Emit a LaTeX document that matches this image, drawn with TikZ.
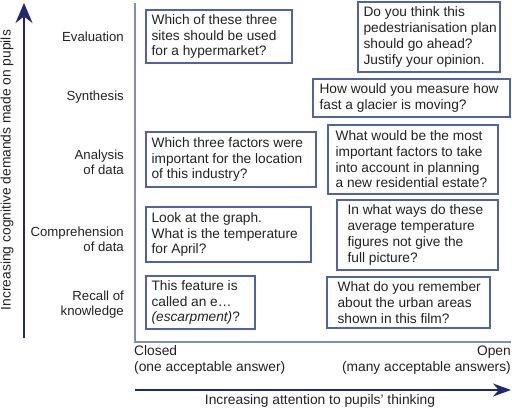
\documentclass[tikz,border=0pt]{standalone}
\usepackage{fontspec}
\setmainfont{Liberation Sans}
\usetikzlibrary{arrows.meta}
\definecolor{navy}{HTML}{1F2A6E}
\definecolor{framecol}{HTML}{7E8CC0}
\definecolor{boxcol}{HTML}{5262AA}
\definecolor{ink}{HTML}{222222}
\tikzset{
  txt/.style={font=\fontsize{13.2}{15.5}\selectfont, inner sep=0pt, text=ink},
  bigtxt/.style={font=\fontsize{13.8}{16}\selectfont, inner sep=0pt, text=ink},
  qbox/.style={draw=boxcol, line width=1.2pt, inner sep=0pt},
  qtext/.style={font=\fontsize{13.7}{15.7}\selectfont, inner sep=0pt, text=ink, align=left, anchor=west},
  lvl/.style={txt, align=right, anchor=east},
  axisline/.style={draw=navy, line width=2.4pt},
  framecolline/.style={draw=framecol, line width=1.5pt},
}
\newcommand{\qbx}[7]{%
  \node[qbox, minimum width={#4-#2}, minimum height={#5-#3}] (#1) at ({(#2+#4)/2},{(#3+#5)/2}) {};
  \node[qtext] (#1t) at ([xshift=#6pt]#1.west) {#7};}
\begin{document}
\begin{tikzpicture}[x=1pt,y=-1pt]
\useasboundingbox (0,0) rectangle (512,410);
% frame
\coordinate (ftop) at (135,3);
\coordinate (fcorner) at (135,342);
\coordinate (fright) at (511,342);
\draw[framecolline] (ftop) -- (fcorner) -- (fright);
% axes
\coordinate (vbot) at (24,338);
\coordinate (vtop) at (24,3);
\draw[axisline, -{Stealth[length=20pt,width=17pt]}] (vbot) -- (vtop);
\coordinate (hleft) at (135,390);
\coordinate (hright) at (511,390);
\draw[axisline, -{Stealth[length=18pt,width=13pt]}] (hleft) -- (hright);
\node[bigtxt, rotate=90] (vlabel) at (7,170) {Increasing cognitive demands made on pupils};
\node[bigtxt] (hlabel) at (320,401) {Increasing attention to pupils’ thinking};
\node[bigtxt, align=left, anchor=west] (closed) at (134,360) {Closed\\(one acceptable answer)};
\node[bigtxt, align=right, anchor=east] (open) at (511,360) {Open\\(many acceptable answers)};
% levels
\node[lvl] (evaluation) at (124,37) {Evaluation};
\node[lvl] (synthesis) at (124,97) {Synthesis};
\node[lvl] (analysis) at (124,162.5) {Analysis\\of data};
\node[lvl] (comprehension) at (124,239.5) {Comprehension\\of data};
\node[lvl] (recall) at (124,304.5) {Recall of\\knowledge};
% boxes
\qbx{b1}{146}{10}{292}{63}{6}{Which of these three\\sites should be used\\for a hypermarket?}
\qbx{b2}{358}{2}{500}{72}{6}{Do you think this\\pedestrianisation plan\\should go ahead?\\Justify your opinion.}
\qbx{b3}{313}{79}{510}{117}{7}{How would you measure how\\fast a glacier is moving?}
\qbx{b4}{146}{132}{316}{187}{6}{Which three factors were\\important for the location\\of this industry?}
\qbx{b5}{328}{125}{498}{194}{8}{What would be the most\\important factors to take\\into account in planning\\a new residential estate?}
\qbx{b6}{146}{207}{311}{262}{6}{Look at the graph.\\What is the temperature\\for April?}
\qbx{b7}{337}{200}{498}{270}{11}{In what ways do these\\average temperature\\figures not give the\\full picture?}
\qbx{b8}{146}{276}{255}{329}{6}{This feature is\\called an e…\\\textit{(escarpment)}?}
\qbx{b9}{327}{277}{490}{328}{11}{What do you remember\\about the urban areas\\shown in this film?}
\end{tikzpicture}
\end{document}
